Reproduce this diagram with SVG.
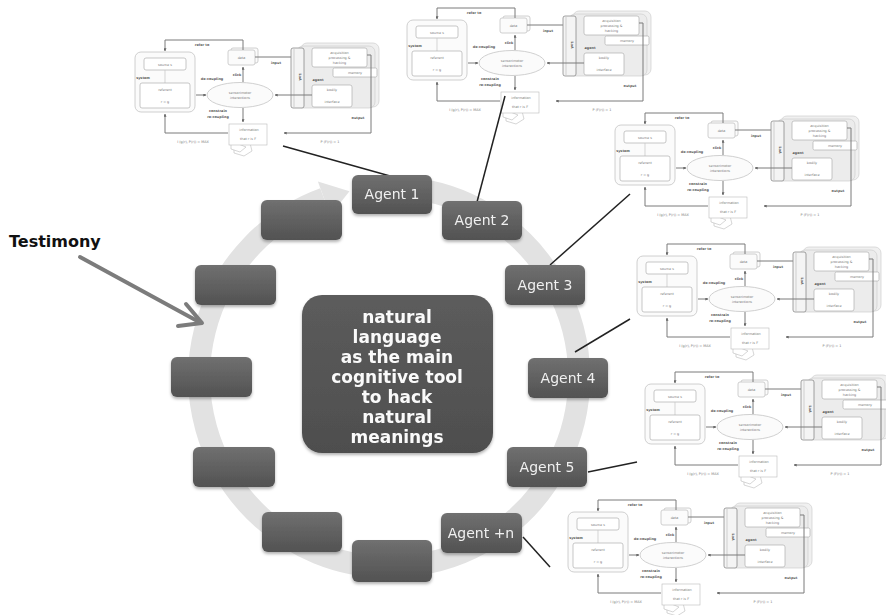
<svg xmlns="http://www.w3.org/2000/svg" xmlns:xlink="http://www.w3.org/1999/xlink" width="886" height="615" viewBox="0 0 886 615">
<style>
.box{fill:url(#gbox);}
.lbl{font-family:"DejaVu Sans",Verdana,sans-serif;font-size:14px;fill:#f0f0f0;text-anchor:middle;}
.ctr{font-family:"DejaVu Sans",Verdana,sans-serif;font-weight:bold;font-size:17px;fill:#fafafa;text-anchor:middle;}
.conn{stroke:#222;stroke-width:1.5;fill:none;}
.m-box{fill:#fbfbfb;stroke:#c4c4c4;stroke-width:0.8;}
.m-ibox{fill:#fff;stroke:#b0b0b0;stroke-width:0.7;}
.m-line{fill:none;stroke:#7a7a7a;stroke-width:1;}
.m-t{font-family:"DejaVu Sans",sans-serif;font-size:3.4px;fill:#777;text-anchor:middle;}
.m-b{font-family:"DejaVu Sans",sans-serif;font-size:3.4px;font-weight:bold;fill:#555;text-anchor:middle;}
</style>
<defs>
<linearGradient id="gbox" x1="0" y1="0" x2="0" y2="1">
<stop offset="0" stop-color="#707070"/>
<stop offset="1" stop-color="#525252"/>
</linearGradient>
<linearGradient id="gctr" x1="0" y1="0" x2="0" y2="1">
<stop offset="0" stop-color="#5c5c5c"/>
<stop offset="1" stop-color="#4e4e4e"/>
</linearGradient>
<filter id="sh" x="-20%" y="-20%" width="140%" height="150%">
<feDropShadow dx="0" dy="2" stdDeviation="1.5" flood-color="#000" flood-opacity="0.3"/>
</filter>
<marker id="ma" viewBox="0 0 10 10" refX="9" refY="5" markerWidth="3" markerHeight="3" orient="auto" markerUnits="strokeWidth">
<path d="M0,0 L10,5 L0,10 z" fill="#666"/>
</marker>
<g id="mini">
<!-- system -->
<rect class="m-box" x="5" y="27" width="60" height="60" rx="6"/>
<rect class="m-ibox" x="14" y="33" width="42" height="12" rx="2"/>
<text class="m-t" x="35" y="40.5">source s</text>
<line x1="35" y1="45" x2="35" y2="58" stroke="#c4c4c4" stroke-width="0.7"/>
<text class="m-b" x="13" y="54">system</text>
<rect class="m-ibox" x="10" y="58" width="50" height="25" rx="2"/>
<text class="m-t" x="35" y="66">referent</text>
<text class="m-t" x="35" y="78">r = g</text>
<!-- ellipse -->
<path class="m-line" d="M66,70 H76" marker-end="url(#ma)"/>
<ellipse cx="110" cy="70" rx="33" ry="12.5" class="m-box"/>
<text class="m-t" x="110" y="68.5">sensorimotor</text>
<text class="m-t" x="110" y="74">interactions</text>
<text class="m-b" x="82" y="55">de-coupling</text>
<text class="m-b" x="107" y="50.5">click</text>
<path class="m-line" d="M113,57 V42" marker-end="url(#ma)"/>
<!-- data -->
<rect class="m-box" x="101" y="23" width="27" height="15" rx="2"/>
<rect class="m-box" x="98" y="25" width="27" height="15" rx="2"/>
<text class="m-t" x="111.5" y="34">data</text>
<path class="m-line" d="M113,25 V15 H35 V26" marker-end="url(#ma)"/>
<text class="m-b" x="72" y="21">refer to</text>
<path class="m-line" d="M125,32 H181" marker-end="url(#ma)"/>
<text class="m-b" x="146" y="38.5">input</text>
<!-- agent panel -->
<rect x="171" y="18" width="78" height="64" rx="6" fill="#f0f0f0" stroke="#cfcfcf" stroke-width="0.7"/>
<rect x="167" y="21" width="78" height="62" rx="6" fill="#ececec" stroke="#cfcfcf" stroke-width="0.7"/>
<rect x="161" y="23" width="13" height="60" rx="2" fill="#f4f4f4" stroke="#8a8a8a" stroke-width="0.8"/>
<line x1="164" y1="24" x2="164" y2="82" stroke="#aaa" stroke-width="0.5"/>
<text class="m-b" transform="translate(168.5,52) rotate(90)">LoA</text>
<rect class="m-ibox" x="182" y="23" width="55" height="19" rx="2"/>
<text class="m-t" x="209.5" y="28.5">acquisition</text>
<text class="m-t" x="209.5" y="33.5">processing &amp;</text>
<text class="m-t" x="209.5" y="38.5">hacking</text>
<rect class="m-ibox" x="203" y="43" width="44" height="9" rx="1.5"/>
<text class="m-t" x="225" y="49">memory</text>
<text class="m-b" x="188" y="55.5">agent</text>
<rect class="m-ibox" x="182" y="60" width="40" height="22" rx="2"/>
<text class="m-t" x="202" y="66">bodily</text>
<text class="m-t" x="202" y="78">interface</text>
<path class="m-line" d="M182,70 H145" marker-end="url(#ma)"/>
<path class="m-line" d="M237,30 H241 V108 H154" marker-end="url(#ma)"/>
<text class="m-b" x="228" y="94">output</text>
<text class="m-t" x="200" y="117.5">P (F(r)) = 1</text>
<!-- information -->
<path class="m-line" d="M113,83 V97" marker-end="url(#ma)"/>
<text class="m-b" x="88" y="86.5">constrain</text>
<text class="m-b" x="88" y="93">re-coupling</text>
<path d="M104,118 L104,128 L114,131 L122,126 L120,118 z" fill="#fff" stroke="#bbb" stroke-width="0.6"/>
<path d="M101,116 L101,124 L110,127 L116,122 z" fill="#fff" stroke="#bbb" stroke-width="0.6"/>
<rect x="99" y="99" width="38" height="21" fill="#fff" stroke="#bbb" stroke-width="0.6"/>
<text class="m-t" x="119" y="106">information</text>
<text class="m-t" x="118" y="115">that r is F</text>
<path class="m-line" d="M98,108 H35 V89" marker-end="url(#ma)"/>
<text class="m-t" x="63" y="117.5">I (g(r), P(r)) = MAX</text>
</g>
</defs>
<rect width="886" height="615" fill="#fff"/>

<!-- ring -->
<g id="cycle-ring">
<path d="M405.6,187.7 A190,190 0 1 1 324.0,198.5" fill="none" stroke="#e2e2e2" stroke-width="22"/>
<polygon points="317.9,181.5 330.2,215.4 349.5,191.2" fill="#e2e2e2"/>
</g>

<!-- mini diagrams -->
<g id="diagram-1"><use xlink:href="#mini" href="#mini" transform="translate(130,25)"/></g>
<g id="diagram-2"><use xlink:href="#mini" href="#mini" transform="translate(402,-7)"/></g>
<g id="diagram-3"><use xlink:href="#mini" href="#mini" transform="translate(610,98)"/></g>
<g id="diagram-4"><use xlink:href="#mini" href="#mini" transform="translate(632,229)"/></g>
<g id="diagram-5"><use xlink:href="#mini" href="#mini" transform="translate(640,357)"/></g>
<g id="diagram-6"><use xlink:href="#mini" href="#mini" transform="translate(563,485)"/></g>

<!-- connectors -->
<g id="connectors">
<line class="conn" x1="390" y1="176" x2="283" y2="146"/>
<line class="conn" x1="477" y1="202" x2="505" y2="96"/>
<line class="conn" x1="550" y1="265" x2="630" y2="194"/>
<line class="conn" x1="575" y1="352" x2="630" y2="319"/>
<line class="conn" x1="588" y1="472" x2="637" y2="462"/>
<line class="conn" x1="523" y1="537" x2="550" y2="567"/>
<g id="testimony-arrow" stroke="#7c7c7c" stroke-width="4" fill="none" stroke-linecap="round" stroke-linejoin="round">
<line x1="80" y1="257" x2="201" y2="323"/>
<polyline points="186,304 202,323 178,326"/>
</g>
</g>

<!-- agent boxes -->
<g id="agent-1" filter="url(#sh)"><rect class="box" x="352" y="175" width="80" height="39" rx="6"/><text class="lbl" x="392" y="199">Agent 1</text></g>
<g id="agent-2" filter="url(#sh)"><rect class="box" x="442" y="201" width="80" height="39" rx="6"/><text class="lbl" x="482" y="225">Agent 2</text></g>
<g id="agent-3" filter="url(#sh)"><rect class="box" x="505" y="265" width="80" height="40" rx="6"/><text class="lbl" x="545" y="290">Agent 3</text></g>
<g id="agent-4" filter="url(#sh)"><rect class="box" x="528" y="358" width="80" height="40" rx="6"/><text class="lbl" x="568" y="383">Agent 4</text></g>
<g id="agent-5" filter="url(#sh)"><rect class="box" x="507" y="447" width="80" height="40" rx="6"/><text class="lbl" x="547" y="472">Agent 5</text></g>
<g id="agent-n" filter="url(#sh)"><rect class="box" x="441" y="513" width="81" height="40" rx="6"/><text class="lbl" x="481" y="538">Agent +n</text></g>
<g id="slot-bottom" filter="url(#sh)"><rect class="box" x="352" y="540" width="80" height="42" rx="6"/></g>
<g id="slot-bottom-left" filter="url(#sh)"><rect class="box" x="262" y="512" width="80" height="40" rx="6"/></g>
<g id="slot-left-lower" filter="url(#sh)"><rect class="box" x="193" y="447" width="82" height="40" rx="6"/></g>
<g id="slot-left" filter="url(#sh)"><rect class="box" x="171" y="357" width="81" height="40" rx="6"/></g>
<g id="slot-left-upper" filter="url(#sh)"><rect class="box" x="195" y="265" width="81" height="40" rx="6"/></g>
<g id="slot-top-left" filter="url(#sh)"><rect class="box" x="261" y="200" width="81" height="40" rx="6"/></g>

<!-- center -->
<g id="center" filter="url(#sh)">
<rect x="302" y="295" width="191" height="158" rx="20" fill="url(#gctr)"/>
<text class="ctr" x="397" y="323">natural</text>
<text class="ctr" x="397" y="343">language</text>
<text class="ctr" x="397" y="363">as the main</text>
<text class="ctr" x="397" y="383">cognitive tool</text>
<text class="ctr" x="397" y="403">to hack</text>
<text class="ctr" x="397" y="423">natural</text>
<text class="ctr" x="397" y="443">meanings</text>
</g>

<g id="testimony"><text x="9" y="247" font-family="DejaVu Sans,Verdana,sans-serif" font-weight="bold" font-size="16" fill="#111">Testimony</text></g>
</svg>
